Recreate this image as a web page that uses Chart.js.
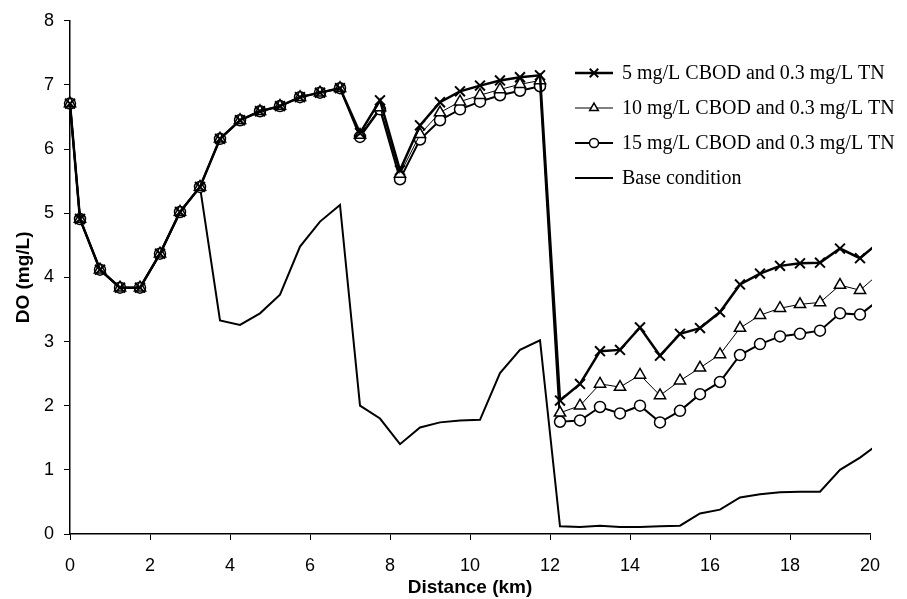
<!DOCTYPE html>
<html>
<head>
<meta charset="utf-8">
<script src="https://cdn.jsdelivr.net/npm/chart.js@4.4.0/dist/chart.umd.min.js"></script>
<style>
  html, body { margin: 0; padding: 0; background: #fff; }
  #wrap { width: 907px; height: 599px; position: relative; }
</style>
</head>
<body>
<div id="wrap"><canvas id="chart" width="907" height="599"></canvas></div>
<script>
// distance along the river (km); last point sits just past the axis and gets clipped
const distanceKm = [0, 0.25, 0.75, 1.25, 1.75, 2.25, 2.75, 3.25, 3.75, 4.25, 4.75, 5.25, 5.75, 6.25, 6.75,
  7.25, 7.75, 8.25, 8.75, 9.25, 9.75, 10.25, 10.75, 11.25, 11.75,
  12.25, 12.75, 13.25, 13.75, 14.25, 14.75, 15.25, 15.75, 16.25, 16.75,
  17.25, 17.75, 18.25, 18.75, 19.25, 19.75, 20.25];

const cbod5 = [6.71, 4.91, 4.12, 3.84, 3.84, 4.37, 5.02, 5.41, 6.16, 6.45, 6.59, 6.67, 6.81, 6.88, 6.95,
  6.25, 6.76, 5.67, 6.37, 6.73, 6.90, 6.99, 7.07, 7.12, 7.15,
  2.08, 2.34, 2.85, 2.87, 3.22, 2.78, 3.12, 3.21, 3.46, 3.89,
  4.06, 4.18, 4.22, 4.23, 4.45, 4.30, 4.56];

const cbod10 = [6.71, 4.91, 4.12, 3.84, 3.84, 4.37, 5.02, 5.41, 6.16, 6.45, 6.59, 6.67, 6.81, 6.88, 6.95,
  6.22, 6.65, 5.61, 6.23, 6.57, 6.74, 6.84, 6.93, 7.01, 7.07,
  1.89, 2.00, 2.34, 2.29, 2.48, 2.16, 2.39, 2.59, 2.80, 3.21,
  3.41, 3.52, 3.58, 3.61, 3.88, 3.80, 4.07];

const cbod15 = [6.71, 4.91, 4.12, 3.84, 3.84, 4.37, 5.02, 5.41, 6.16, 6.45, 6.59, 6.67, 6.81, 6.88, 6.95,
  6.19, 6.62, 5.53, 6.15, 6.45, 6.62, 6.74, 6.84, 6.91, 6.98,
  1.75, 1.77, 1.98, 1.88, 2.00, 1.74, 1.92, 2.18, 2.37, 2.79,
  2.96, 3.08, 3.12, 3.17, 3.44, 3.42, 3.66];

const baseCondition = [6.71, 4.91, 4.12, 3.84, 3.84, 4.37, 5.02, 5.41, 3.33, 3.26, 3.44, 3.73, 4.48, 4.87, 5.13,
  2.00, 1.80, 1.40, 1.66, 1.74, 1.77, 1.78, 2.51, 2.87, 3.02,
  0.12, 0.11, 0.13, 0.11, 0.11, 0.12, 0.13, 0.32, 0.38, 0.57,
  0.62, 0.65, 0.66, 0.66, 1.00, 1.19, 1.42];

const seriesNames = ["5 mg/L CBOD and 0.3 mg/L TN", "10 mg/L CBOD and 0.3 mg/L TN",
  "15 mg/L CBOD and 0.3 mg/L TN", "Base condition"];

const xTicks = [0, 2, 4, 6, 8, 10, 12, 14, 16, 18, 20];
const yTicks = [0, 1, 2, 3, 4, 5, 6, 7, 8];

const pts = vals => vals.map((v, i) => ({ x: distanceKm[i], y: v }));
const clipBox = { left: 10, top: 10, right: 2, bottom: 10 };

const styles = [
  { line: 2.5, pointStyle: "crossRot", radius: 7, pbw: 2, legendR: 6 },
  { line: 1, pointStyle: "triangle", radius: 6.5, pbw: 1.5, legendR: 5 },
  { line: 2, pointStyle: "circle", radius: 5.5, pbw: 1.5, legendR: 4.5 },
  { line: 2, pointStyle: false, radius: 0, pbw: 0, legendR: 0 }
];

const datasets = [cbod5, cbod10, cbod15, baseCondition].map((vals, i) => ({
  label: seriesNames[i],
  data: pts(vals),
  borderColor: "#000",
  backgroundColor: "#fff",
  borderWidth: styles[i].line,
  pointStyle: styles[i].pointStyle,
  pointRadius: styles[i].radius,
  pointBorderWidth: styles[i].pbw,
  pointBorderColor: "#000",
  pointBackgroundColor: "#fff",
  tension: 0,
  clip: clipBox
}));

// Excel-style legend: line sample with the marker in its middle
const legendPlugin = {
  id: "sideLegend",
  afterDraw(c) {
    const ctx = c.ctx;
    const rows = [73, 108, 143, 178];
    ctx.save();
    rows.forEach((y, i) => {
      const s = styles[i];
      ctx.strokeStyle = "#000";
      ctx.lineWidth = s.line;
      ctx.beginPath();
      ctx.moveTo(575, y);
      ctx.lineTo(613, y);
      ctx.stroke();
      if (s.pointStyle) {
        ctx.fillStyle = "#fff";
        ctx.lineWidth = s.pbw;
        Chart.helpers.drawPoint(ctx, { pointStyle: s.pointStyle, radius: s.legendR, borderWidth: s.pbw, rotation: 0 }, 594, y);
      }
      ctx.fillStyle = "#000";
      ctx.font = '20px "Liberation Serif", "Times New Roman", serif';
      ctx.textBaseline = "middle";
      ctx.textAlign = "left";
      ctx.fillText(seriesNames[i], 622, y + 1);
    });
    ctx.restore();
  }
};

const tickFont = { family: '"Liberation Sans", Arial, sans-serif', size: 18 };
const titleFont = { family: '"Liberation Sans", Arial, sans-serif', size: 19, weight: "bold" };

new Chart(document.getElementById("chart"), {
  type: "line",
  data: { datasets },
  plugins: [legendPlugin],
  options: {
    responsive: false,
    animation: false,
    layout: { padding: { top: 18, right: 37, left: 0, bottom: 0 } },
    plugins: { legend: { display: false }, tooltip: { enabled: false } },
    scales: {
      x: {
        type: "linear",
        min: 0, max: 20,
        afterFit(s) { s.height = 65; },
        afterBuildTicks(s) { s.ticks = xTicks.map(v => ({ value: v })); },
        grid: { drawOnChartArea: false, drawTicks: true, tickLength: 6, color: "#000" },
        border: { color: "#000", width: 1.5 },
        ticks: { color: "#000", font: tickFont, padding: 15, maxRotation: 0 },
        title: { display: true, text: "Distance (km)", color: "#000", font: titleFont, padding: { top: 0, bottom: 0 } }
      },
      y: {
        min: 0, max: 8,
        afterFit(s) { s.width = 70; },
        afterBuildTicks(s) { s.ticks = yTicks.map(v => ({ value: v })); },
        grid: { drawOnChartArea: false, drawTicks: true, tickLength: 6, color: "#000" },
        border: { color: "#000", width: 1.5 },
        ticks: { color: "#000", font: tickFont, padding: 10 },
        title: { display: true, text: "DO (mg/L)", color: "#000", font: titleFont, padding: { top: 12, bottom: 0 } }
      }
    }
  }
});
</script>
</body>
</html>
